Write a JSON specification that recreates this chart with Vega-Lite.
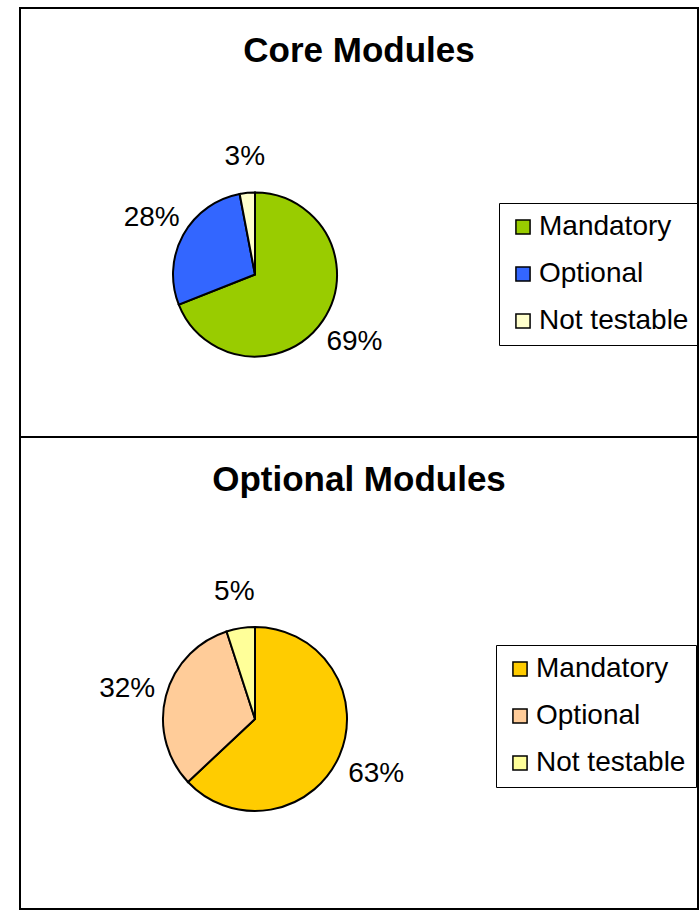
{
  "$schema": "https://vega.github.io/schema/vega-lite/v6.json",
  "padding": {"left": 19, "top": 7, "right": 0, "bottom": 0},
  "spacing": 0,
  "bounds": "flush",
  "background": "white",
  "config": {
    "view": {"stroke": "black", "strokeWidth": 2},
    "font": "Liberation Sans",
    "title": {"fontSize": 35, "fontWeight": "bold", "color": "black", "anchor": "middle", "font": "Liberation Sans"},
    "legend": {
      "labelFontSize": 28, "labelFont": "Liberation Sans", "labelColor": "black",
      "symbolType": "square", "symbolSize": 200, "symbolStrokeColor": "black", "symbolStrokeWidth": 1.5,
      "rowPadding": 19, "padding": 10, "strokeColor": "black", "strokeWidth": 1,
      "labelOffset": 2, "labelLimit": 300, "symbolOpacity": 1
    }
  },
  "resolve": {"scale": {"color": "independent"}, "legend": {"color": "independent"}},
  "vconcat": [
    {
      "width": 678,
      "height": 429,
      "view": {"stroke": "black", "strokeWidth": 2},
      "title": {"text": "Core Modules", "offset": -61},
      "data": {"values": [
        {"cat": "Mandatory", "v": 0.69, "i": 1},
        {"cat": "Optional", "v": 0.28, "i": 2},
        {"cat": "Not testable", "v": 0.03, "i": 3}
      ]},
      "encoding": {
        "theta": {"field": "v", "type": "quantitative", "stack": true},
        "order": {"field": "i", "type": "quantitative"}
      },
      "layer": [
        {
          "mark": {"type": "arc", "outerRadius": 82, "stroke": "black", "strokeWidth": 2, "xOffset": -104, "yOffset": 52},
          "encoding": {
            "color": {"field": "cat", "type": "nominal", "sort": null,
              "scale": {"domain": ["Mandatory", "Optional", "Not testable"], "range": ["#99CC00", "#3366FF", "#FFFFCC"]},
              "legend": {"orient": "none", "legendX": 479, "legendY": 195, "title": null}}
          }
        },
        {
          "mark": {"type": "text", "radius": 119, "fontSize": 28, "color": "black", "xOffset": -103, "yOffset": 53},
          "encoding": {"text": {"field": "v", "type": "quantitative", "format": ".0%"}}
        }
      ]
    },
    {
      "width": 678,
      "height": 472,
      "view": {"stroke": "black", "strokeWidth": 2},
      "title": {"text": "Optional Modules", "offset": -61},
      "data": {"values": [
        {"cat": "Mandatory", "v": 0.63, "i": 1},
        {"cat": "Optional", "v": 0.32, "i": 2},
        {"cat": "Not testable", "v": 0.05, "i": 3}
      ]},
      "encoding": {
        "theta": {"field": "v", "type": "quantitative", "stack": true},
        "order": {"field": "i", "type": "quantitative"}
      },
      "layer": [
        {
          "mark": {"type": "arc", "outerRadius": 92, "stroke": "black", "strokeWidth": 2, "xOffset": -104, "yOffset": 46},
          "encoding": {
            "color": {"field": "cat", "type": "nominal", "sort": null,
              "scale": {"domain": ["Mandatory", "Optional", "Not testable"], "range": ["#FFCC00", "#FFCC99", "#FFFF99"]},
              "legend": {"orient": "none", "legendX": 476, "legendY": 208, "title": null}}
          }
        },
        {
          "mark": {"type": "text", "radius": 132, "fontSize": 28, "color": "black", "xOffset": -104, "yOffset": 49},
          "encoding": {"text": {"field": "v", "type": "quantitative", "format": ".0%"}}
        }
      ]
    }
  ]
}
